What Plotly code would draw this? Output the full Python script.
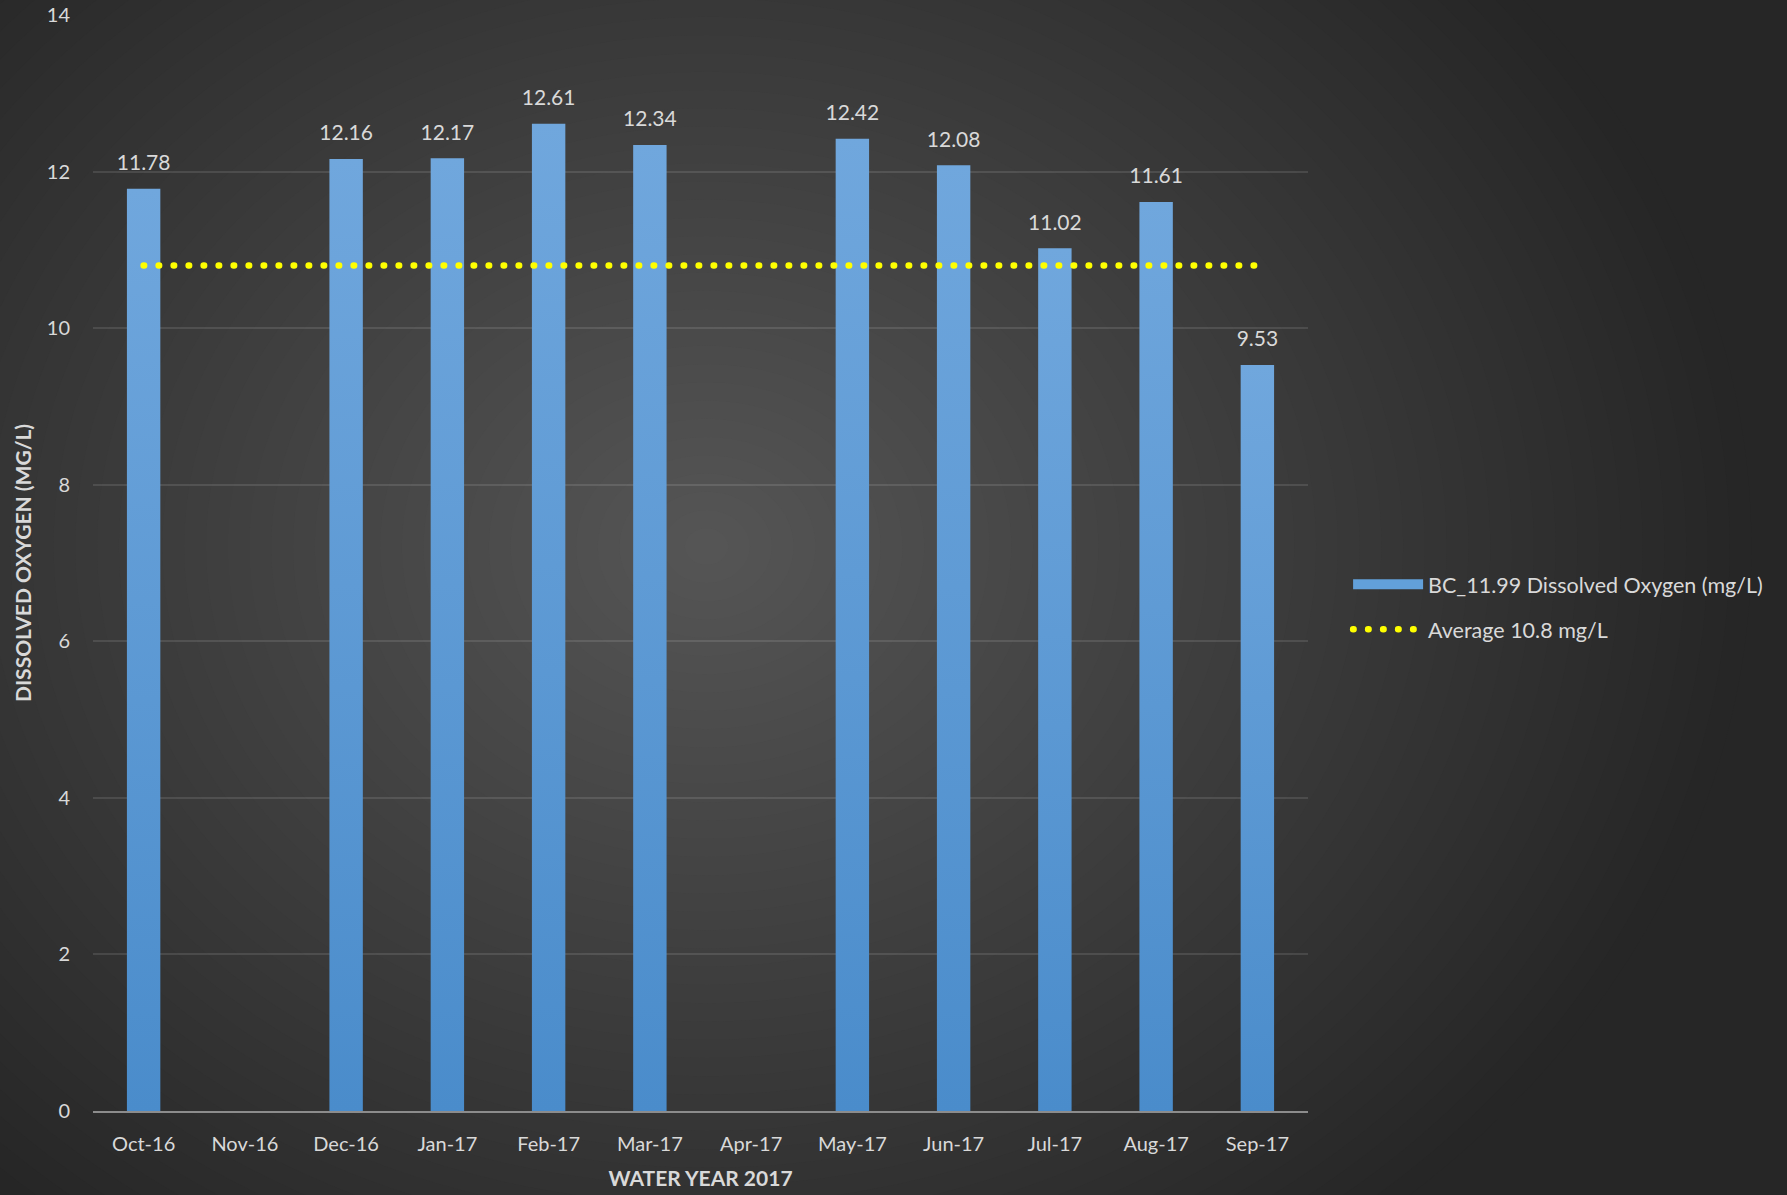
import plotly.graph_objects as go

months = ["Oct-16", "Nov-16", "Dec-16", "Jan-17", "Feb-17", "Mar-17",
          "Apr-17", "May-17", "Jun-17", "Jul-17", "Aug-17", "Sep-17"]
do_values = [11.78, None, 12.16, 12.17, 12.61, 12.34,
             None, 12.42, 12.08, 11.02, 11.61, 9.53]
average_value = 10.8
bar_name = "BC_11.99 Dissolved Oxygen (mg/L)"
avg_name = "Average 10.8 mg/L"
y_ticks = [0, 2, 4, 6, 8, 10, 12, 14]

FONT = "Lato"
TXT = "#d9d9d9"
BAR = "#5c9ad6"

fig = go.Figure()

fig.add_trace(go.Bar(
    x=months, y=do_values, name=bar_name, showlegend=False,
    marker=dict(color=BAR, line=dict(width=0)),
    hoverinfo="x+y",
))

# data labels above the bars
fig.add_trace(go.Scatter(
    x=months, y=do_values, mode="markers+text", showlegend=False,
    marker=dict(size=20, opacity=0),
    text=[f"{v:.2f}" if v is not None else "" for v in do_values],
    textposition="top center", cliponaxis=False,
    textfont=dict(family=FONT, size=21, color=TXT),
    hoverinfo="skip",
))

# legend-only entry with a wide swatch
fig.add_trace(go.Scatter(
    x=[None], y=[None], mode="lines", name=bar_name, legendgroup="a",
    line=dict(color=BAR, width=13), hoverinfo="skip",
))

fig.add_trace(go.Scatter(
    x=months, y=[average_value] * len(months), mode="lines", name=avg_name,
    legendgroup="b",
    line=dict(color="#ffff00", width=6.5, dash="0.5px,14.5px"),
    hoverinfo="skip",
))

# radial background gradient
shapes = []
cx, cy = 0.505, 0.515
rx, ry = 0.86, 0.80
c_out, c_in = 38, 86
N = 48
for i in range(N):
    f = 1 - i / N
    c = round(c_out + (c_in - c_out) * (1 - f))
    shapes.append(dict(
        type="circle", xref="paper", yref="paper",
        x0=cx - rx * f, x1=cx + rx * f, y0=cy - ry * f, y1=cy + ry * f,
        fillcolor=f"rgb({c},{c},{c})", line=dict(width=0), layer="below",
    ))

fig.update_layout(
    width=1787, height=1195,
    margin=dict(l=93, r=479, t=15, b=84),
    paper_bgcolor="#262626",
    plot_bgcolor="rgba(0,0,0,0)",
    shapes=shapes,
    bargap=0.67,
    font=dict(family=FONT, color=TXT, size=20),
    showlegend=True,
    legend=dict(
        x=1.033, xanchor="left", y=0.46, yanchor="middle",
        font=dict(family=FONT, size=21.5, color=TXT),
        bgcolor="rgba(0,0,0,0)", itemwidth=70, tracegroupgap=14,
    ),
    xaxis=dict(
        type="category", categoryorder="array", categoryarray=months,
        range=[-0.5, len(months) - 0.5], automargin=False,
        showgrid=False, showline=True, linecolor="#8c8c8c", linewidth=2,
        ticks="", tickfont=dict(family=FONT, size=20, color=TXT),
        ticklabelstandoff=14,
        title=dict(text="<b>WATER YEAR 2017</b>",
                   font=dict(family=FONT, size=21, color=TXT), standoff=17),
    ),
    yaxis=dict(
        range=[0, 14], tickvals=y_ticks, showgrid=True, automargin=False,
        gridcolor="rgba(255,255,255,0.11)", gridwidth=1.5,
        zeroline=False, showline=False, ticks="",
        tickfont=dict(family=FONT, size=20, color=TXT),
        ticklabelstandoff=22,
        title=dict(text="<b>DISSOLVED OXYGEN (MG/L)</b>",
                   font=dict(family=FONT, size=21, color=TXT), standoff=9),
    ),
)

post = (
    "document.body.style.margin='0';document.body.style.overflow='hidden';"
    "document.querySelectorAll('.scatterlayer .js-line, .legendlines path')"
    ".forEach(function(p){var d=p.style.strokeDasharray||p.getAttribute('stroke-dasharray');"
    "if(d&&d!=='none'){p.style.strokeLinecap='round';}});"
    "var NS='http://www.w3.org/2000/svg';"
    "var svg=document.querySelector('.main-svg');"
    "var defs=svg.querySelector('defs')||svg.insertBefore(document.createElementNS(NS,'defs'),svg.firstChild);"
    "var g=document.createElementNS(NS,'linearGradient');g.setAttribute('id','bargrad');"
    "g.setAttribute('x1','0');g.setAttribute('y1','0');g.setAttribute('x2','0');g.setAttribute('y2','1');"
    "[['0','#70a7dd'],['1','#4a8ccb']].forEach(function(s){var st=document.createElementNS(NS,'stop');"
    "st.setAttribute('offset',s[0]);st.setAttribute('stop-color',s[1]);g.appendChild(st);});"
    "defs.appendChild(g);"
    "document.querySelectorAll('.barlayer .point path').forEach(function(p){p.style.fill='url(#bargrad)';});"
    "document.querySelectorAll('.legendlines path').forEach(function(p){"
    "var d=p.style.strokeDasharray||p.getAttribute('stroke-dasharray');"
    "if(!d||d==='none'){p.style.stroke='#62a0da';}});"
)

fig.write_html("out.html", config={"displayModeBar": False}, post_script=post)
